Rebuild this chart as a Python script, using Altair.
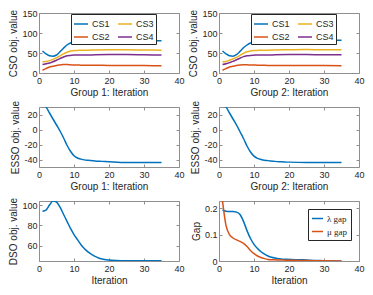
import altair as alt
import pandas as pd

# ---------------- data ----------------
it_cso = [1, 2, 3, 4, 5, 6, 7, 8, 9, 10, 11, 12, 14, 16, 20, 25, 30, 35]
g1_cs1 = [55, 48, 43, 42, 45, 53, 62, 70, 75, 77, 78, 79, 80, 80.5, 81, 81, 80.5, 80.5]
g1_cs2 = [7, 11, 15, 17, 19, 20, 21, 21, 20.5, 20, 20, 19.5, 19.5, 19.5, 19, 19, 18.5, 18]
g1_cs3 = [28, 29, 31, 34, 38, 43, 48, 52, 55, 56, 56.5, 57, 57, 57.5, 58, 58, 57.5, 57]
g1_cs4 = [21, 23, 25, 28, 32, 36, 40, 43, 44, 45, 45, 45, 45, 45.5, 46, 46, 45.5, 45]

g2_cs1 = [55, 48, 43, 42, 46, 54, 63, 70, 75, 77, 78.5, 79.5, 80.5, 81, 81.5, 82, 82, 82]
g2_cs2 = [7, 11, 15, 17, 19, 20, 20.5, 20.5, 20, 20, 19.5, 19.5, 19, 19, 19, 18.5, 18.5, 18]
g2_cs3 = [28, 29, 32, 35, 39, 44, 49, 53, 55, 56, 56.5, 57, 57, 57.5, 58, 58.5, 58, 58]
g2_cs4 = [21, 23, 26, 29, 33, 37, 41, 43, 44, 44.5, 45, 45, 45, 45.5, 46, 46, 45.5, 45.5]

it_esso = [1, 2, 3, 4, 5, 6, 7, 8, 9, 10, 11, 12, 13, 14, 16, 18, 20, 25, 30, 35]
g1_esso = [33, 30, 22, 14, 6, -2, -11, -21, -29, -35, -38, -39.5, -40.5, -41, -42, -42.5, -43, -44, -44, -44]
g2_esso = [33, 30, 22, 14, 6, -3, -12, -22, -30, -35.5, -38.5, -40, -41, -41.5, -42.5, -43, -43.5, -44, -44, -44]

it_dso = [1, 2, 3, 4, 5, 6, 7, 8, 9, 10, 11, 12, 13, 14, 15, 16, 17, 18, 20, 22, 25, 30, 35]
dso = [94, 95, 100, 104, 103, 98, 91, 84, 77, 71, 66, 61, 57, 54, 51.5, 49.5, 48, 47, 46, 45.5, 45.2, 45.2, 45.2]

it_gap = [1, 2, 3, 4, 5, 6, 7, 8, 9, 10, 11, 12, 13, 14, 15, 16, 17, 18, 20, 22, 24, 26, 28, 30, 35]
lam_gap = [0.193, 0.188, 0.187, 0.187, 0.185, 0.176, 0.15, 0.115, 0.085, 0.063, 0.047, 0.035, 0.026,
           0.019, 0.014, 0.011, 0.009, 0.007, 0.006, 0.005, 0.005, 0.003, 0.002, 0.001, 0.0]
mu_gap = [0.227, 0.135, 0.1, 0.087, 0.08, 0.074, 0.067, 0.055, 0.04, 0.028, 0.019, 0.013, 0.009,
          0.006, 0.005, 0.0045, 0.004, 0.0035, 0.003, 0.0025, 0.002, 0.0015, 0.001, 0.001, 0.0]

cs_names = ["CS1", "CS2", "CS3", "CS4"]
cs_colors = ["#0072BD", "#D95319", "#EDB120", "#7E2F8E"]
gap_names = ["\u03bb gap", "\u03bc gap"]
gap_colors = ["#0072BD", "#D95319"]

x_ticks = [0, 10, 20, 30, 40]

# ---------------- helpers ----------------
FRAME = "#8f8f8f"
TXT = "#262626"
W, H = 140, 60


def long_df(it, series):
    rows = []
    for name, vals in series:
        for i, v in zip(it, vals):
            rows.append({"it": i, "v": v, "s": name})
    return pd.DataFrame(rows)


def panel(df, ydom, yvals, yfmt, xtitle, ytitle, color):
    xs = alt.Scale(domain=[0, 40], nice=False)
    ys = alt.Scale(domain=ydom, nice=False, zero=False)
    minus_fix = "replace(datum.label, '\u2212', '-')"
    main = alt.Chart(df).mark_line(strokeWidth=1.5, interpolate="monotone", clip=True).encode(
        x=alt.X("it:Q", scale=xs, axis=alt.Axis(values=x_ticks, title=xtitle, tickSize=0, domain=False,
                                                  grid=False, labelFlush=False, labelPadding=3,
                                                  titlePadding=2)),
        y=alt.Y("v:Q", scale=ys, axis=alt.Axis(values=yvals, title=ytitle, tickSize=0, domain=False,
                                                 grid=False, format=yfmt, labelExpr=minus_fix,
                                                 labelPadding=2, titlePadding=3)),
        color=color,
    )
    tick_ax = dict(tickSize=3, labels=False, domain=False, grid=False, title=None, offset=-3,
                   tickColor=FRAME)
    t1 = alt.Chart(df).mark_line(opacity=0).encode(
        x=alt.X("it:Q", scale=xs, axis=alt.Axis(orient="bottom", values=x_ticks, **tick_ax)),
        y=alt.Y("v:Q", scale=ys, axis=alt.Axis(orient="left", values=yvals, **tick_ax)),
    )
    t2 = alt.Chart(df).mark_line(opacity=0).encode(
        x=alt.X("it:Q", scale=xs, axis=alt.Axis(orient="top", values=x_ticks, **tick_ax)),
        y=alt.Y("v:Q", scale=ys, axis=alt.Axis(orient="right", values=yvals, **tick_ax)),
    )
    return alt.layer(main, t1, t2).resolve_axis(x="independent", y="independent").properties(
        width=W, height=H)


def cso_color():
    return alt.Color("s:N", scale=alt.Scale(domain=cs_names, range=cs_colors), sort=cs_names,
                     legend=alt.Legend(title=None, orient="none", legendX=32, legendY=1,
                                       columns=2, symbolType="stroke", symbolSize=196,
                                       symbolStrokeWidth=1.5, labelFontSize=9, columnPadding=5,
                                       rowPadding=0, padding=2, strokeColor=TXT, fillColor="white",
                                       labelOffset=3, labelColor=TXT))


gap_color = alt.Color("s:N", scale=alt.Scale(domain=gap_names, range=gap_colors), sort=gap_names,
                      legend=alt.Legend(title=None, orient="top-right", offset=8, symbolType="stroke",
                                        symbolSize=121, symbolStrokeWidth=1.5, labelFontSize=9,
                                        labelFont="Liberation Serif", rowPadding=1, padding=3,
                                        strokeColor=TXT, fillColor="white", labelOffset=3,
                                        labelColor=TXT))

blue = alt.value("#0072BD")

p11 = panel(long_df(it_cso, [("CS1", g1_cs1), ("CS2", g1_cs2), ("CS3", g1_cs3), ("CS4", g1_cs4)]),
            [0, 150], [0, 50, 100, 150], "d", "Group 1: Iteration", "CSO obj. value", cso_color())
p12 = panel(long_df(it_cso, [("CS1", g2_cs1), ("CS2", g2_cs2), ("CS3", g2_cs3), ("CS4", g2_cs4)]),
            [0, 150], [0, 50, 100, 150], "d", "Group 2: Iteration", "CSO obj. value", cso_color())
p21 = panel(long_df(it_esso, [("E", g1_esso)]), [-50, 30], [-40, -20, 0, 20], "d",
            "Group 1: Iteration", "ESSO obj. value", blue)
p22 = panel(long_df(it_esso, [("E", g2_esso)]), [-50, 30], [-40, -20, 0, 20], "d",
            "Group 2: Iteration", "ESSO obj. value", blue)
p31 = panel(long_df(it_dso, [("D", dso)]), [45, 104], [60, 80, 100], "d",
            "Iteration", "DSO obj. value", blue)
p32 = panel(long_df(it_gap, [(gap_names[0], lam_gap), (gap_names[1], mu_gap)]), [0, 0.227],
            [0, 0.1, 0.2], ".1~f", "Iteration", "Gap", gap_color)

chart = alt.concat(p11, p12, p21, p22, p31, p32, columns=2, bounds="flush",
                   spacing={"row": 34, "column": 40}).resolve_scale(
    color="independent").properties(padding=0).configure(
    font="Liberation Sans",
).configure_view(stroke=FRAME, strokeWidth=1).configure_axis(
    labelFont="Liberation Sans", labelFontSize=9, labelColor=TXT,
    titleFont="Liberation Sans", titleFontSize=10, titleFontWeight="normal", titleColor=TXT,
).configure_legend(labelFont="Liberation Sans")

chart.save("out.html", embed_options={"renderer": "svg", "actions": False})
